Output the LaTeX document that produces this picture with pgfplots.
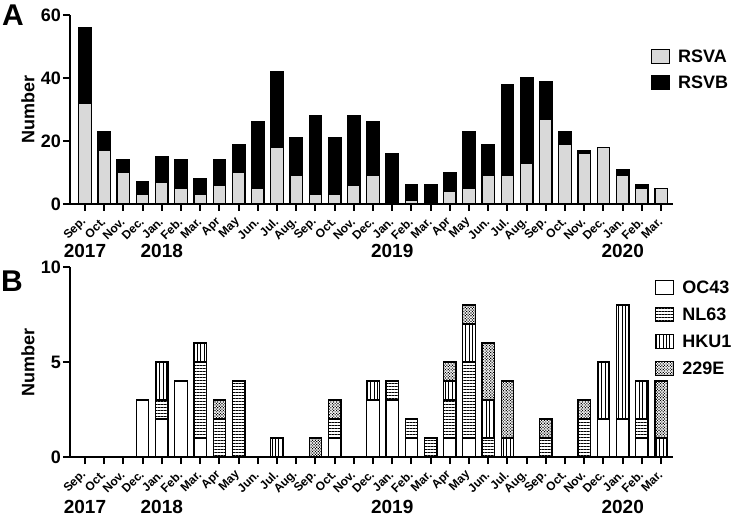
\documentclass[border=0pt]{standalone}
\usepackage{fontspec}
\setmainfont{Liberation Sans}
\usepackage{pgfplots}
\usepackage{pgfplotstable}
\pgfplotsset{compat=1.18}
\usetikzlibrary{patterns,patterns.meta}
\definecolor{rsvagray}{HTML}{D9D9D9}

% RSV counts per month, Sep 2017 (0) to Mar 2020 (30)
\pgfplotstableread{
idx A B
0 32 24
1 17 6
2 10 4
3 3 4
4 7 8
5 5 9
6 3 5
7 6 8
8 10 9
9 5 21
10 18 24
11 9 12
12 3 25
13 3 18
14 6 22
15 9 17
16 0 16
17 1 5
18 0 6
19 4 6
20 5 18
21 9 10
22 9 29
23 13 27
24 27 12
25 19 4
26 16 1
27 18 0
28 9 2
29 5 1
30 5 0
}\rsvdata

% seasonal coronavirus counts
\pgfplotstableread{
idx OC NL HK E
0 0 0 0 0
1 0 0 0 0
2 0 0 0 0
3 3 0 0 0
4 2 1 2 0
5 4 0 0 0
6 1 4 1 0
7 0 2 0 1
8 0 4 0 0
9 0 0 0 0
10 0 0 1 0
11 0 0 0 0
12 0 0 0 1
13 1 1 0 1
14 0 0 0 0
15 3 0 1 0
16 3 1 0 0
17 1 1 0 0
18 0 1 0 0
19 1 2 1 1
20 1 4 2 1
21 0 1 2 3
22 0 0 1 3
23 0 0 0 0
24 0 1 0 1
25 0 0 0 0
26 0 2 0 1
27 2 0 3 0
28 2 0 6 0
29 1 1 2 0
30 0 0 1 3
}\covdata

\tikzset{yearlab/.style={font=\fontsize{19}{19}\selectfont\bfseries, inner sep=0pt}}

\pgfplotsset{
  panel/.style={
    scale only axis, width=603pt, clip=false,
    axis lines*=left, axis line style={line width=2pt},
    ybar stacked, bar width=12.5pt, enlargelimits=false,
    xmin=-0.78, xmax=30.62, xtick={0,...,30},
    xticklabels={Sep.,Oct.,Nov.,Dec.,Jan.,Feb.,Mar.,Apr,May,Jun.,Jul.,Aug.,Sep.,Oct.,Nov.,Dec.,Jan.,Feb.,Mar.,Apr,May,Jun.,Jul.,Aug.,Sep.,Oct.,Nov.,Dec.,Jan.,Feb.,Mar.},
    tick align=outside, major tick length=7pt,
    major tick style={line width=2pt, black},
    minor tick num=0,
    /pgf/number format/assume math mode=true,
    xticklabel shift=8pt,
    xticklabel style={font=\fontsize{12}{12}\selectfont\bfseries, rotate=45, anchor=east, inner sep=1pt},
    yticklabel style={font=\fontsize{18}{18}\selectfont\bfseries, inner sep=2pt},
    ylabel={Number},
    ylabel style={font=\fontsize{18}{18}\selectfont\bfseries, at={(axis description cs:-0.0697,0.5)}, anchor=center},
    legend cell align=left,
    legend image code/.code={\draw[#1, line width=1.3pt] (0pt,-7pt) rectangle (18pt,7pt);},
    every axis plot/.append style={draw=black, line width=1.3pt},
  },
}

\begin{document}
\begin{tikzpicture}
\useasboundingbox (0,0) rectangle (733pt,-518pt);
\node[font=\fontsize{30}{30}\selectfont\bfseries] at (13pt,-15pt) {A};
\node[font=\fontsize{30}{30}\selectfont\bfseries] at (12pt,-281pt) {B};

\begin{axis}[panel, at={(70pt,-204pt)}, anchor=south west, height=189pt,
  ymin=0, ymax=60, ytick={0,20,40,60},
  legend style={at={(axis description cs:0.958,0.84)}, anchor=north west,
    draw=none, fill=none, font=\fontsize{18}{18}\selectfont\bfseries, row sep=8pt,
    /tikz/every odd column/.append style={column sep=6pt}}]
\addplot[fill=rsvagray] table[x=idx, y=A] {\rsvdata};
\addplot[fill=black] table[x=idx, y=B] {\rsvdata};
\legend{RSVA,RSVB}
\node[yearlab] at (axis cs:0,0) [yshift=-47pt] {2017};
\node[yearlab] at (axis cs:4,0) [yshift=-47pt] {2018};
\node[yearlab] at (axis cs:16,0) [yshift=-47pt] {2019};
\node[yearlab] at (axis cs:28,0) [yshift=-47pt] {2020};
\end{axis}

\begin{axis}[panel, at={(70pt,-457pt)}, anchor=south west, height=190pt,
  ymin=0, ymax=10, ytick={0,5,10},
  legend style={at={(axis description cs:0.965,0.95)}, anchor=north west,
    draw=none, fill=none, font=\fontsize{18}{18}\selectfont\bfseries, row sep=9pt,
    /tikz/every odd column/.append style={column sep=6pt}}]
\addplot[fill=white] table[x=idx, y=OC] {\covdata};
\addplot[pattern={Lines[angle=0, distance=3pt, line width=0.75pt]}] table[x=idx, y=NL] {\covdata};
\addplot[pattern={Lines[angle=90, distance=3.4pt, line width=0.7pt]}] table[x=idx, y=HK] {\covdata};
\addplot[pattern={Dots[angle=45, distance=2pt, radius=0.8pt]}] table[x=idx, y=E] {\covdata};
\legend{OC43,NL63,HKU1,229E}
\node[yearlab] at (axis cs:0,0) [yshift=-50pt] {2017};
\node[yearlab] at (axis cs:4,0) [yshift=-50pt] {2018};
\node[yearlab] at (axis cs:16,0) [yshift=-50pt] {2019};
\node[yearlab] at (axis cs:28,0) [yshift=-50pt] {2020};
\end{axis}
\end{tikzpicture}
\end{document}
